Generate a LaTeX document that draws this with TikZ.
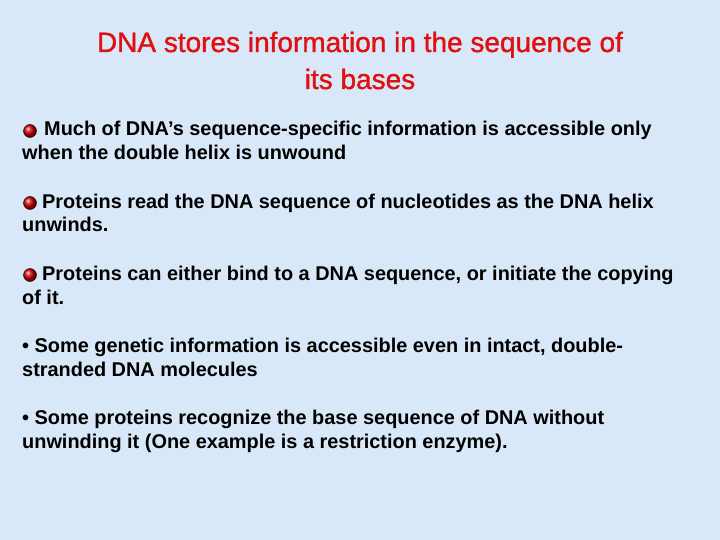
\documentclass[tikz,border=0pt]{standalone}
\usepackage{fontspec}
\setmainfont{Liberation Sans}
\definecolor{bg}{HTML}{D9E8F8}
\definecolor{ttl}{HTML}{E01010}
\begin{document}
\begin{tikzpicture}[x=1pt,y=-1pt,
  txt/.style={anchor=base west,inner sep=0pt,font=\bfseries\fontsize{19.9}{22}\selectfont},
  ttlst/.style={anchor=base,inner sep=0pt,text=ttl,font=\fontsize{28}{34}\selectfont},
  ball/.style={circle,minimum size=13pt,inner sep=0pt,ball color=red!85!black,draw=black,line width=0.4pt}]
\fill[bg] (0,0) rectangle (720,540);
\useasboundingbox (0,0) rectangle (720,540);
\node[ttlst] (t1) at (360,52) {\addfontfeature{FakeBold=1.2}DNA stores information in the sequence of};
\node[ttlst] (t2) at (360,89) {\addfontfeature{FakeBold=1.2}its bases};
\node[ball] (b1) at (30,131) {};
\node[txt] (l1a) at (44,136) {Much of DNA’s sequence-specific information is accessible only};
\node[txt] (l1b) at (22,160) {when the double helix is unwound};
\node[ball] (b2) at (30,203) {};
\node[txt] (l2a) at (42,208) {Proteins read the DNA sequence of nucleotides as the DNA helix};
\node[txt] (l2b) at (22,232) {unwinds.};
\node[ball] (b3) at (30,275) {};
\node[txt] (l3a) at (42,280) {Proteins can either bind to a DNA sequence, or initiate the copying};
\node[txt] (l3b) at (22,304) {of it.};
\node[txt] (l4a) at (22,352) {• Some genetic information is accessible even in intact, double-};
\node[txt] (l4b) at (22,376) {stranded DNA molecules};
\node[txt] (l5a) at (22,424) {• Some proteins recognize the base sequence of DNA without};
\node[txt] (l5b) at (22,448) {unwinding it (One example is a restriction enzyme).};
\end{tikzpicture}
\end{document}
